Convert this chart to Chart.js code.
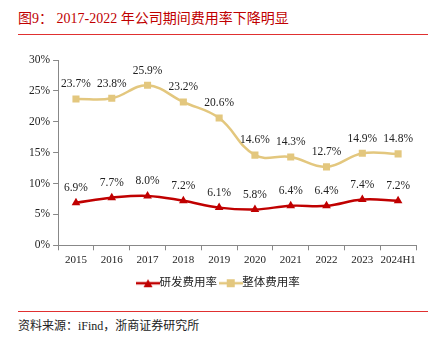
<!DOCTYPE html>
<html>
<head>
<meta charset="utf-8">
<script src="https://cdn.jsdelivr.net/npm/chart.js@4.4.1/dist/chart.umd.min.js"></script>
<style>
  body { margin: 0; width: 436px; height: 337px; background: #fff; position: relative; overflow: hidden; }
  #title { position: absolute; left: 18px; top: 7px; font: 14px "Liberation Serif", "Noto Sans CJK SC", serif; color: #C00000; }
  .rule { position: absolute; left: 18px; width: 410px; height: 1px; background: #E03030; }
  #src { position: absolute; left: 18px; top: 316px; font: 12px "Liberation Serif", "Noto Sans CJK SC", serif; color: #222; }
  #wrap { position: absolute; left: 0; top: 45px; width: 436px; height: 254px; }
</style>
</head>
<body>
<div id="title">图9：&nbsp;2017-2022 年公司期间费用率下降明显</div>
<div class="rule" style="top:34px"></div>
<div id="wrap"><canvas id="chart"></canvas></div>
<div class="rule" style="top:311px"></div>
<div id="src">资料来源：iFind，浙商证券研究所</div>
<script>
// categories and series
const years = ["2015", "2016", "2017", "2018", "2019", "2020", "2021", "2022", "2023", "2024H1"];
const rdRate = [6.9, 7.7, 8.0, 7.2, 6.1, 5.8, 6.4, 6.4, 7.4, 7.2];
const totalRate = [23.7, 23.8, 25.9, 23.2, 20.6, 14.6, 14.3, 12.7, 14.9, 14.8];
const yTicks = [0, 5, 10, 15, 20, 25, 30];

const red = "#C00000";
const tan = "#E3C77E";
const serif = "'Liberation Serif', 'Noto Sans CJK SC', serif";

// legend icon: line with a marker on it
function legendIcon(color, shape) {
  const c = document.createElement("canvas");
  c.width = 24; c.height = 10;
  const g = c.getContext("2d");
  g.strokeStyle = color; g.lineWidth = 2.5;
  g.beginPath(); g.moveTo(0, 5); g.lineTo(24, 5); g.stroke();
  g.fillStyle = color;
  if (shape === "tri") {
    g.beginPath(); g.moveTo(12, 1); g.lineTo(16.5, 9); g.lineTo(7.5, 9); g.closePath(); g.fill();
  } else {
    g.fillRect(8, 1, 8, 8);
  }
  return c;
}

const dataLabels = {
  id: "dataLabels",
  afterDatasetsDraw(chart) {
    const ctx = chart.ctx;
    ctx.save();
    ctx.font = "11.5px " + serif;
    ctx.fillStyle = "#222";
    ctx.textAlign = "center";
    ctx.textBaseline = "bottom";
    chart.data.datasets.forEach((ds, i) => {
      chart.getDatasetMeta(i).data.forEach((pt, j) => {
        ctx.fillText(ds.data[j].toFixed(1) + "%", pt.x, pt.y - 9);
      });
    });
    ctx.restore();
  }
};

new Chart(document.getElementById("chart"), {
  type: "line",
  data: {
    labels: years,
    datasets: [
      {
        label: "研发费用率",
        data: rdRate,
        borderColor: red,
        backgroundColor: red,
        borderWidth: 2.5,
        tension: 0.4,
        pointStyle: "triangle",
        pointRadius: 5,
        pointBorderWidth: 0,
      },
      {
        label: "整体费用率",
        data: totalRate,
        borderColor: tan,
        backgroundColor: tan,
        borderWidth: 2.5,
        tension: 0.4,
        pointStyle: "rect",
        pointRadius: 5,
        pointBorderWidth: 0,
      },
    ],
  },
  options: {
    responsive: true,
    maintainAspectRatio: false,
    animation: false,
    layout: { padding: { left: 26, right: 20, top: 15, bottom: 0 } },
    scales: {
      x: {
        offset: true,
        grid: { display: true, drawOnChartArea: false, offset: true, tickLength: 5, color: "#888" },
        border: { color: "#888" },
        ticks: { color: "#222", font: { family: serif, size: 11 }, maxRotation: 0, autoSkip: false, padding: 3 },
      },
      y: {
        min: 0,
        max: 30,
        grid: { display: true, drawOnChartArea: false, tickLength: 5, color: "#888" },
        border: { color: "#888" },
        afterBuildTicks: (axis) => { axis.ticks = yTicks.map((v) => ({ value: v })); },
        ticks: { color: "#222", font: { family: serif, size: 11.5 }, padding: 3, callback: (v) => v + "%" },
      },
    },
    plugins: {
      legend: {
        position: "bottom",
        labels: {
          usePointStyle: true,
          generateLabels: (chart) => chart.data.datasets.map((ds, i) => ({
            text: ds.label,
            pointStyle: legendIcon(ds.borderColor, i === 0 ? "tri" : "rect"),
            fillStyle: ds.borderColor,
            strokeStyle: ds.borderColor,
            lineWidth: 0,
            datasetIndex: i,
            fontColor: "#222",
          })),
          font: { family: serif, size: 11.5 },
          padding: 8,
        },
      },
      tooltip: { enabled: false },
    },
  },
  plugins: [dataLabels],
});
</script>
</body>
</html>
